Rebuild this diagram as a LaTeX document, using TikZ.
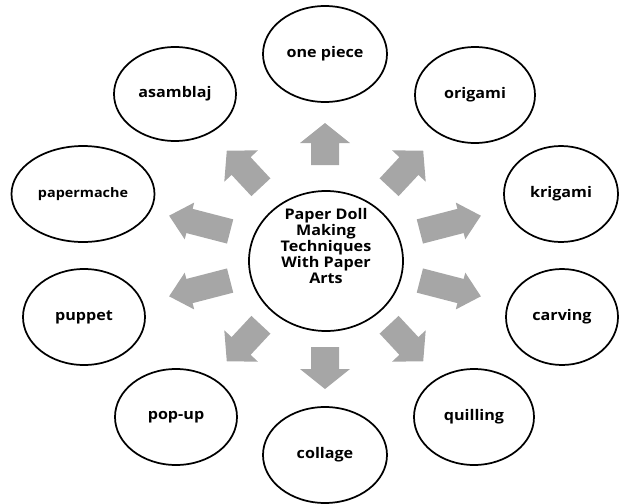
\documentclass[tikz,border=0pt]{standalone}
\usepackage{fontspec}
\setmainfont{Open Sans}[FakeStretch=1.1]
\usetikzlibrary{shapes.geometric}
\definecolor{arrowgray}{RGB}{166,166,166}
\newcommand\blockarr[6]{%
  \begin{scope}[shift={(325,256)},rotate=#1]
    \fill[arrowgray] (#2,-#4) -- ({#3-#6},-#4) -- ({#3-#6},-#5) -- (#3,0)
      -- ({#3-#6},#5) -- ({#3-#6},#4) -- (#2,#4) -- cycle;
  \end{scope}}
\begin{document}
\begin{tikzpicture}[x=0.75pt,y=-0.75pt,
  oval/.style 2 args={draw=black, line width=1.3pt, ellipse, inner sep=0pt,
    minimum width=#1*1.5pt, minimum height=#2*1.5pt,
    font=\fontsize{11}{13}\selectfont\bfseries},
  hub/.style={draw=black, line width=1.3pt, ellipse, inner sep=0pt,
    minimum width=115.5pt, minimum height=105pt},
  hubtext/.style={align=center, inner sep=0pt,
    font=\fontsize{11}{12}\selectfont\bfseries}]
\useasboundingbox (0,0) rectangle (619,504);

% arrows
\blockarr{90}{91}{133}{14}{25}{20}
\blockarr{-90}{91}{133}{14}{25}{20}
\blockarr{47}{94}{144}{13}{23}{21}
\blockarr{-47}{94}{144}{13}{23}{21}
\blockarr{133}{94}{144}{13}{23}{21}
\blockarr{-133}{94}{144}{13}{23}{21}
\blockarr{14.5}{98}{161}{12.5}{19}{21}
\blockarr{-14.5}{98}{161}{12.5}{19}{21}
\blockarr{165.5}{98}{161}{12.5}{19}{21}
\blockarr{194.5}{98}{161}{12.5}{19}{21}

% hub
\node[hub] (c) at (326,261) {};
\node[hubtext] (ctext) at (326,246) {Paper Doll\\Making\\Techniques\\With Paper\\Arts};

% outer ellipses
\node[oval={62}{48}] (onepiece) at (325,54) {one piece};
\node[oval={60}{48}] (origami) at (475,95) {origami};
\node[oval={57}{48}] (krigami) at (561,194) {krigami};
\node[oval={56}{48}] (carving) at (562,317) {carving};
\node[oval={60}{48}] (quilling) at (474,417) {quilling};
\node[oval={62}{48}] (collage) at (325,455) {collage};
\node[oval={61}{48}] (popup) at (176,417) {pop-up};
\node[oval={61}{48}] (puppet) at (84,317) {puppet};
\node[oval={71.5}{48}, font=\fontsize{9.8}{12}\selectfont\bfseries] (papermache) at (83,194) {papermache};
\node[oval={61}{47}] (asamblaj) at (175,94) {asamblaj};
\end{tikzpicture}
\end{document}
